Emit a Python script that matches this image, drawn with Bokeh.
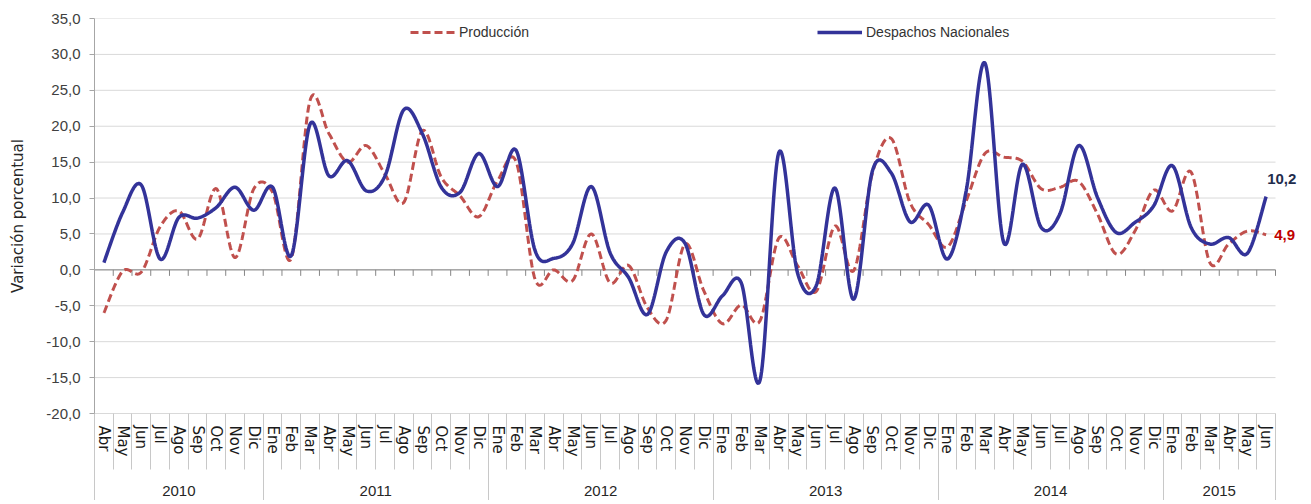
import numpy as np
from bokeh.plotting import figure
from bokeh.models import (FixedTicker, LinearAxis, Range1d, Legend,
                          LegendItem, Label)
from bokeh.embed import file_html
from bokeh.resources import INLINE

# ---------------- data ----------------
MESES_NOMBRE = ["Ene", "Feb", "Mar", "Abr", "May", "Jun",
                "Jul", "Ago", "Sep", "Oct", "Nov", "Dic"]
anios = ["2010", "2011", "2012", "2013", "2014", "2015"]
meses_por_anio = [9, 12, 12, 12, 12, 6]
meses = MESES_NOMBRE[3:] + MESES_NOMBRE * 4 + MESES_NOMBRE[:6]

produccion = [-6.0, -0.2, -0.3, 6.0, 8.2, 4.3, 11.3, 1.7, 11.3,
              10.8, 1.6, 23.6, 19.0, 15.0, 17.3, 13.3, 9.4, 19.4, 12.9, 10.3, 7.4,
              12.4, 15.0, -1.3, 0.0, -1.5, 5.0, -1.8, 0.6, -5.3, -7.0, 3.6, -2.9,
              -7.5, -4.9, -7.1, 4.4, 0.6, -3.0, 6.1, -0.1, 13.5, 18.3, 9.4, 6.3,
              3.2, 9.6, 16.2, 15.7, 15.1, 11.3, 11.5, 12.3, 7.8, 2.2, 5.4, 11.1,
              8.2, 13.6, 1.0, 3.6, 5.4, 4.9]
despachos = [1.0, 8.0, 11.8, 1.5, 7.3, 7.2, 8.7, 11.5, 8.3,
             11.5, 2.0, 20.3, 13.1, 15.2, 11.0, 13.1, 22.3, 18.9, 11.5, 10.8, 16.2,
             11.6, 16.6, 2.7, 1.6, 3.6, 11.6, 2.4, -1.1, -6.2, 2.5, 3.7, -6.2,
             -3.6, -1.8, -15.4, 16.3, -0.4, -2.2, 11.4, -4.1, 13.8, 13.5, 6.7, 9.0,
             1.5, 11.0, 28.8, 3.8, 14.7, 5.9, 7.8, 17.3, 10.1, 5.2, 6.6, 8.9,
             14.5, 5.9, 3.6, 4.5, 2.3, 10.2]
y_ticks = [-20, -15, -10, -5, 0, 5, 10, 15, 20, 25, 30, 35]

# ---------------- helpers ----------------
def fmt(v):
    return f"{v:.1f}".replace(".", ",")

def smooth(xs, ys, n=24):
    """Excel-like smoothed line (Catmull-Rom Bezier)."""
    xs = np.asarray(xs, float)
    ys = np.asarray(ys, float)
    px = np.concatenate([[xs[0]], xs, [xs[-1]]])
    py = np.concatenate([[ys[0]], ys, [ys[-1]]])
    ox, oy = [], []
    m = len(xs) - 1
    for i in range(m):
        p0 = np.array([px[i], py[i]]); p1 = np.array([px[i + 1], py[i + 1]])
        p2 = np.array([px[i + 2], py[i + 2]]); p3 = np.array([px[i + 3], py[i + 3]])
        c1 = p1 + (p2 - p0) / 6.0
        c2 = p2 - (p3 - p1) / 6.0
        t = np.linspace(0, 1, n, endpoint=(i == m - 1))
        b = ((1 - t) ** 3)[:, None] * p1 + (3 * (1 - t) ** 2 * t)[:, None] * c1 \
            + (3 * (1 - t) * t ** 2)[:, None] * c2 + (t ** 3)[:, None] * p2
        ox.extend(b[:, 0]); oy.extend(b[:, 1])
    return ox, oy

N = len(meses)
xs = np.arange(N) + 0.5
limites = list(range(N + 1))
limites_anio = [0] + [int(v) for v in np.cumsum(meses_por_anio)]
centros_anio = [(a + b) / 2 for a, b in zip(limites_anio[:-1], limites_anio[1:])]

# layout (pixels)
W, H = 1300, 500
LEFT, TOP, FRAME_H = 94, 18, 395
RIGHT = 2
BOTTOM = H - TOP - FRAME_H
CAT_W = 1181                  # width of the category area
FRAME_W = W - LEFT - RIGHT    # frame extended to the right to hold the end labels
x_end = N * FRAME_W / CAT_W

# ---------------- figure ----------------
p = figure(width=W, height=H, x_range=Range1d(0, x_end), y_range=Range1d(-20, 35),
           output_backend="svg", toolbar_location=None,
           x_axis_type=None, y_axis_type=None,
           min_border_left=LEFT, min_border_right=RIGHT,
           min_border_top=TOP, min_border_bottom=BOTTOM)
p.outline_line_color = None
p.background_fill_color = "white"
p.border_fill_color = "white"
p.xgrid.visible = False
p.ygrid.visible = False

# horizontal gridlines (only over the category area)
p.segment(x0=[0] * len(y_ticks), x1=[N] * len(y_ticks), y0=y_ticks, y1=y_ticks,
          line_color="#d9d9d9", line_width=1)

# y axis
yaxis = LinearAxis(ticker=FixedTicker(ticks=y_ticks),
                   major_label_overrides={t: fmt(t) for t in y_ticks},
                   axis_label="Variación porcentual")
yaxis.axis_line_color = "#a6a6a6"
yaxis.major_tick_line_color = "#a6a6a6"
yaxis.major_tick_out = 5
yaxis.major_tick_in = 0
yaxis.minor_tick_line_color = None
yaxis.major_label_standoff = 9
yaxis.major_label_text_font = "Liberation Sans"
yaxis.major_label_text_font_size = "15px"
yaxis.major_label_text_color = "#404040"
yaxis.axis_label_text_font = "DejaVu Sans"
yaxis.axis_label_text_font_size = "15px"
yaxis.axis_label_text_font_style = "normal"
yaxis.axis_label_text_color = "#262626"
yaxis.axis_label_standoff = 16
p.add_layout(yaxis, "left")

# month axis (minor ticks = separators)
xaxis_m = LinearAxis(ticker=FixedTicker(ticks=list(xs), minor_ticks=limites),
                     major_label_overrides={float(c): m for c, m in zip(xs, meses)},
                     bounds=(0, N))
xaxis_m.major_label_orientation = "vertical"
xaxis_m.major_tick_out = 0
xaxis_m.major_tick_in = 0
xaxis_m.major_tick_line_color = None
xaxis_m.minor_tick_out = 56
xaxis_m.minor_tick_in = 0
xaxis_m.minor_tick_line_color = "#c8c8c8"
xaxis_m.axis_line_color = "#d9d9d9"
xaxis_m.major_label_standoff = -44
xaxis_m.major_label_text_font = "DejaVu Sans"
xaxis_m.major_label_text_font_size = "15px"
xaxis_m.major_label_text_color = "#1a1a1a"
p.add_layout(xaxis_m, "below")

# year axis
xaxis_y = LinearAxis(ticker=FixedTicker(ticks=centros_anio, minor_ticks=limites_anio),
                     major_label_overrides={float(c): a for c, a in zip(centros_anio, anios)},
                     bounds=(0, N))
xaxis_y.axis_line_color = None
xaxis_y.major_tick_out = 0
xaxis_y.major_tick_in = 0
xaxis_y.major_tick_line_color = None
xaxis_y.minor_tick_out = 60
xaxis_y.minor_tick_in = 0
xaxis_y.minor_tick_line_color = "#c8c8c8"
xaxis_y.major_label_standoff = -34
xaxis_y.major_label_text_font = "Liberation Sans"
xaxis_y.major_label_text_font_size = "15px"
xaxis_y.major_label_text_color = "#262626"
p.add_layout(xaxis_y, "below")

# zero line with ticks
p.segment(x0=[0], x1=[N], y0=[0], y1=[0], line_color="#868686", line_width=1)
tick_len = 6 * 55 / 395.0
p.segment(x0=limites, y0=[0] * len(limites), x1=limites, y1=[-tick_len] * len(limites),
          line_color="#868686", line_width=1)

# series
px_, py_ = smooth(xs, produccion)
dx_, dy_ = smooth(xs, despachos)
r_prod = p.line(px_, py_, line_color="#c0504d", line_width=3, line_dash="8 4")
r_desp = p.line(dx_, dy_, line_color="#333399", line_width=3.5)

# legends
def make_legend(label, r, loc):
    lg = Legend(items=[LegendItem(label=label, renderers=[r])], location=loc,
                orientation="horizontal", glyph_width=45, glyph_height=20,
                label_standoff=4, padding=0, margin=0, spacing=0,
                border_line_color=None, background_fill_alpha=0)
    lg.label_text_font = "Liberation Sans"
    lg.label_text_font_size = "14px"
    lg.label_text_color = "#333333"
    return lg

p.add_layout(make_legend("Producción", r_prod, (316, 371)))
p.add_layout(make_legend("Despachos Nacionales", r_desp, (723, 371)))

# end labels
p.add_layout(Label(x=float(xs[-1]), y=despachos[-1], text=fmt(despachos[-1]),
                   x_offset=1, y_offset=18, text_baseline="middle",
                   text_color="#1f2d4d", text_font="Liberation Sans",
                   text_font_style="bold", text_font_size="15px"))
p.add_layout(Label(x=float(xs[-1]), y=produccion[-1], text=fmt(produccion[-1]),
                   x_offset=8, y_offset=0, text_baseline="middle",
                   text_color="#c00000", text_font="Liberation Sans",
                   text_font_style="bold", text_font_size="15px"))

open("out.html", "w").write(file_html(p, INLINE))
